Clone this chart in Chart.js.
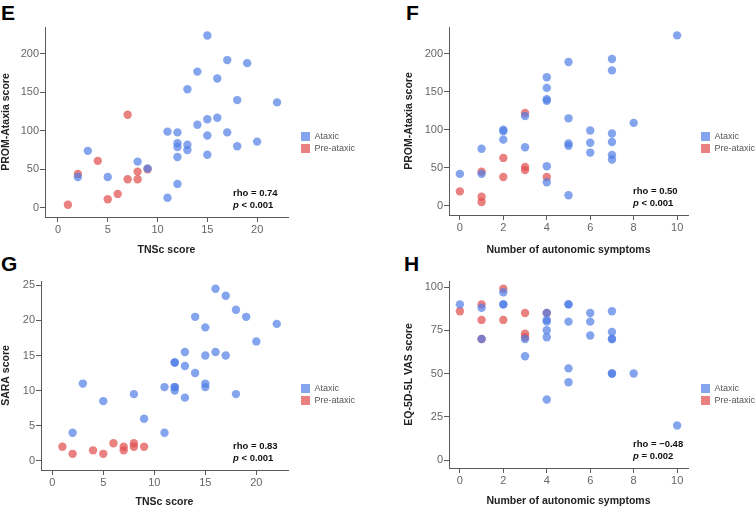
<!DOCTYPE html>
<html>
<head>
<meta charset="utf-8">
<script src="https://cdn.jsdelivr.net/npm/chart.js@4.4.0/dist/chart.umd.min.js"></script>
<style>
  html, body { margin: 0; background: #fff; overflow: hidden; width: 756px; height: 508px; }
  .panel { position: absolute; }
  .letter { position: absolute; font: bold 21px "Liberation Sans", Arial, sans-serif; color: #000; }
</style>
</head>
<body>
<div class="letter" style="left:1px;top:1px">E</div>
<div class="letter" style="left:406px;top:1px">F</div>
<div class="letter" style="left:1px;top:252px">G</div>
<div class="letter" style="left:404px;top:252px">H</div>
<div class="panel" style="left:0;top:0;width:378px;height:258px"><canvas id="chartE"></canvas></div>
<div class="panel" style="left:403px;top:0;width:360px;height:258px"><canvas id="chartF"></canvas></div>
<div class="panel" style="left:0;top:250px;width:378px;height:258px"><canvas id="chartG"></canvas></div>
<div class="panel" style="left:403px;top:250px;width:360px;height:258px"><canvas id="chartH"></canvas></div>
<script>
// E: TNSc score vs PROM-Ataxia
const tnscPromAtaxic = [[15,224],[17,192],[19,188],[14,177],[16,168],[13,154],[18,140],[22,137],
  [15,115],[16,117],[14,108],[11,99],[12,98],[15,94],[17,98],[12,84],[12,79],[13,82],[13,75],
  [20,86],[18,80],[12,66],[15,69],[3,74],[8,60],[9,51],[5,40],[2,40],[12,31],[11,13]];
const tnscPromPre = [[7,121],[4,61],[2,44],[8,47],[9,50],[7,37],[8,37],[6,18],[5,11],[1,4]];

// F: autonomic symptoms vs PROM-Ataxia
const autoPromAtaxic = [[10,224],[7,193],[7,178],[5,189],[4,169],[4,155],[4,140],[4,138],[3,118],
  [5,115],[2,100],[2,98],[2,87],[8,109],[6,99],[7,95],[6,83],[7,84],[5,82],[5,79],[6,70],[7,67],
  [7,61],[1,75],[3,77],[4,52],[0,42],[1,42],[4,31],[5,14]];
const autoPromPre = [[3,122],[2,63],[2,38],[1,45],[3,51],[3,47],[4,38],[0,19],[1,12],[1,5]];

// G: TNSc score vs SARA
const tnscSaraAtaxic = [[16,24.5],[17,23.5],[18,21.5],[19,20.5],[14,20.5],[22,19.5],[15,19],[20,17],
  [13,15.5],[16,15.5],[15,15],[17,15],[12,14],[12,14],[13,13.5],[14,12.5],[3,11],[15,11],[15,10.5],
  [11,10.5],[12,10.5],[12,10.5],[12,10],[8,9.5],[18,9.5],[13,9],[5,8.5],[9,6],[2,4],[11,4]];
const tnscSaraPre = [[1,2],[2,1],[4,1.5],[5,1],[6,2.5],[7,2],[7,1.5],[8,2.5],[8,2],[9,2]];

// H: autonomic symptoms vs EQ-5D-5L VAS
const autoVasAtaxic = [[0,90],[1,88],[1,70],[2,97],[2,90],[2,90],[3,70],[3,60],[4,85],[4,81],[4,80],
  [4,75],[4,71],[4,35],[5,90],[5,90],[5,80],[5,53],[5,45],[6,85],[6,80],[6,72],[7,86],[7,74],[7,70],
  [7,70],[7,50],[7,50],[8,50],[10,20]];
const autoVasPre = [[0,86],[1,90],[1,81],[1,70],[2,99],[2,81],[3,85],[3,73],[3,71],[4,85]];

const tnscTicks = [0, 5, 10, 15, 20];
const autoTicks = [0, 2, 4, 6, 8, 10];
const promTicks = [0, 50, 100, 150, 200];
const saraTicks = [0, 5, 10, 15, 20, 25];
const vasTicks = [0, 25, 50, 75, 100];

const blue = 'rgba(80,125,230,0.70)';
const red = 'rgba(225,80,80,0.72)';
const axisColor = '#5a5a5a';
const FONT = '"Liberation Sans", Arial, sans-serif';

// rho / p text in the lower right corner of the plot
const statsText = {
  id: 'statsText',
  afterDatasetsDraw(chart, args, opts) {
    const c = chart.ctx, a = chart.chartArea;
    c.save();
    c.fillStyle = '#111';
    c.textBaseline = 'middle';
    const x = a.right - 55;
    c.font = 'bold 9.5px ' + FONT;
    c.fillText(opts.rho, x, a.bottom - 24);
    c.font = 'italic bold 9.5px ' + FONT;
    c.fillText('p', x, a.bottom - 12);
    const w = c.measureText('p').width;
    c.font = 'bold 9.5px ' + FONT;
    c.fillText(opts.p, x + w, a.bottom - 12);
    c.restore();
  }
};

// leave a gap between plot and legend
const legendGap = {
  id: 'legendGap',
  afterLayout(chart) {
    const l = chart.legend;
    if (l) { l.left += 10; l.right += 10; }
  }
};

function toPts(arr) { return arr.map(d => ({x: d[0], y: d[1]})); }

function axis(min, max, ticks, title, size, titlePad) {
  return {
    type: 'linear', min: min, max: max,
    afterBuildTicks: s => { s.ticks = ticks.map(v => ({value: v})); },
    afterFit: s => { if (s.isHorizontal()) s.height = size; else s.width = size; },
    grid: { drawOnChartArea: false, color: axisColor, tickLength: 5 },
    border: { color: axisColor, width: 1 },
    ticks: { color: '#666', font: { size: 11 }, padding: 1 },
    title: { display: true, text: title, color: '#222', font: { size: 10.5, weight: 'bold' }, padding: titlePad }
  };
}

function scatter(id, ataxic, pre, xs, ys, rho, p, padTop, targetRight) {
  const chart = new Chart(document.getElementById(id), {
    type: 'scatter',
    data: {
      datasets: [
        { label: 'Ataxic', data: toPts(ataxic), backgroundColor: blue, borderWidth: 0, pointRadius: 4.2 },
        { label: 'Pre-ataxic', data: toPts(pre), backgroundColor: red, borderWidth: 0, pointRadius: 4.2 }
      ]
    },
    options: {
      responsive: true,
      maintainAspectRatio: false,
      animation: false,
      layout: { padding: { top: padTop, left: 0, right: 10, bottom: 0 } },
      plugins: {
        legend: {
          position: 'right',
          labels: { boxWidth: 9, boxHeight: 9, padding: 3, color: '#555', font: { size: 9 } }
        },
        tooltip: { enabled: false },
        statsText: { rho: rho, p: p }
      },
      scales: { x: xs, y: ys }
    },
    plugins: [statsText, legendGap]
  });
  const diff = chart.chartArea.right - targetRight;
  chart.options.layout.padding.right += diff;
  chart.update();
}

Chart.defaults.font.family = FONT;

scatter('chartE', tnscPromAtaxic, tnscPromPre,
  axis(-1.3, 23.1, tnscTicks, 'TNSc score', 41, {top: 0, bottom: 2}),
  axis(-12, 235, promTicks, 'PROM-Ataxia score', 45, {top: 0, bottom: 0}),
  'rho = 0.74', ' < 0.001', 27, 288);
scatter('chartF', autoPromAtaxic, autoPromPre,
  axis(-0.5, 10.5, autoTicks, 'Number of autonomic symptoms', 43, {top: 0, bottom: 2}),
  axis(-12, 235, promTicks, 'PROM-Ataxia score', 46, {top: 0, bottom: 0}),
  'rho = 0.50', ' < 0.001', 27, 285);
scatter('chartG', tnscSaraAtaxic, tnscSaraPre,
  axis(-1.1, 23.1, tnscTicks, 'TNSc score', 38, {top: 0, bottom: 0}),
  axis(-1.3, 25.6, saraTicks, 'SARA score', 41, {top: 0, bottom: 0}),
  'rho = 0.83', ' < 0.001', 31, 288);
scatter('chartH', autoVasAtaxic, autoVasPre,
  axis(-0.5, 10.5, autoTicks, 'Number of autonomic symptoms', 40, {top: 0, bottom: 1}),
  axis(-4.6, 103.5, vasTicks, 'EQ-5D-5L VAS score', 46, {top: 0, bottom: 0}),
  'rho = \u22120.48', ' = 0.002', 31, 285);
</script>
</body>
</html>
